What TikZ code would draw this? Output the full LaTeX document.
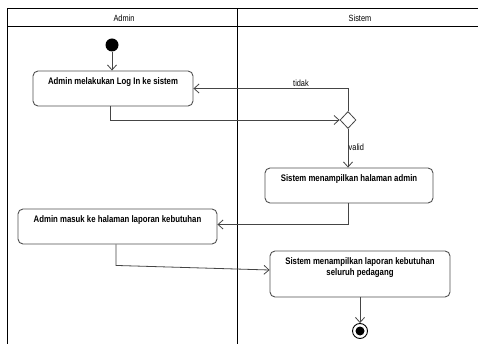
\documentclass[tikz,border=0pt]{standalone}
\usepackage{fontspec}
\setmainfont{Liberation Sans}[FakeStretch=0.82]
\usetikzlibrary{arrows.meta,shapes.geometric}
\definecolor{linec}{HTML}{454545}
\definecolor{boxc}{HTML}{505050}
\tikzset{
  act/.style={draw=boxc,line width=0.9pt,rounded corners=5pt,inner sep=0pt},
  acttext/.style={font=\bfseries\fontsize{9.5}{11.5}\selectfont,align=center,inner sep=0pt,anchor=north},
  flow/.style={draw=linec,line width=0.8pt,-{Straight Barb[length=5pt,width=9pt,line width=0.8pt]}},
  lbl/.style={font=\fontsize{9}{10}\selectfont,inner sep=0pt},
  lane/.style={draw=black,line width=1pt}
}
\begin{document}
\begin{tikzpicture}[x=1pt,y=-1pt]
\useasboundingbox (0,0) rectangle (478,344);
% swimlanes
\draw[lane] (7.5,344) -- (7.5,9) -- (478,9);
\draw[lane] (7.5,27) -- (478,27);
\draw[draw=black,line width=1.8pt] (237.5,9) -- (237.5,344);
\node[lbl] (hadmin) at (124,18.5) {Admin};
\node[lbl] (hsistem) at (360,18.5) {Sistem};
% start
\node[circle,fill=black,minimum width=11pt,minimum height=13pt,inner sep=0pt] (start) at (112,45) {};
% activities
\node[act,minimum width=160pt,minimum height=35pt] (b1) at (113,88.5) {};
\node[acttext] (t1) at ([yshift=-6.5pt]b1.north) {Admin melakukan Log In ke sistem};
\node[draw=linec,line width=0.8pt,fill=white,diamond,minimum width=16pt,minimum height=17pt,inner sep=0pt] (d) at (348,120) {};
\node[act,minimum width=168pt,minimum height=35pt] (b2) at (349,185.5) {};
\node[acttext] (t2) at ([yshift=-6.5pt]b2.north) {Sistem menampilkan halaman admin};
\node[act,minimum width=199pt,minimum height=35pt] (b3) at (117.5,226.5) {};
\node[acttext] (t3) at ([yshift=-6.5pt]b3.north) {Admin masuk ke halaman laporan kebutuhan};
\node[act,minimum width=180pt,minimum height=46pt] (b4) at (360,274) {};
\node[acttext] (t4) at ([yshift=-6.5pt]b4.north) {Sistem menampilkan laporan kebutuhan\\seluruh pedagang};
% end
\node[circle,draw=black,line width=0.9pt,minimum size=15pt,inner sep=0pt] (endo) at (360,331) {};
\node[circle,fill=black,minimum size=9pt,inner sep=0pt] (endi) at (endo) {};
% flows
\draw[flow] (start) -- (b1.north -| start);
\draw[flow] ([xshift=-3pt]b1.south) |- (d.west);
\draw[flow] (d.north) |- (b1.east);
\node[lbl,anchor=west] (ltidak) at (293,83) {tidak};
\draw[flow] (d.south) -- (b2.north -| d.south);
\node[lbl,anchor=west] (lvalid) at (348.5,147) {valid};
\draw[flow] (b2.south -| d.south) |- ([yshift=2pt]b3.east);
\draw[flow] ([xshift=-1.5pt]b3.south) -- ++(0,21) -- ([yshift=4pt]b4.west);
\draw[flow] (b4.south) -- (endo.north);
\end{tikzpicture}
\end{document}
